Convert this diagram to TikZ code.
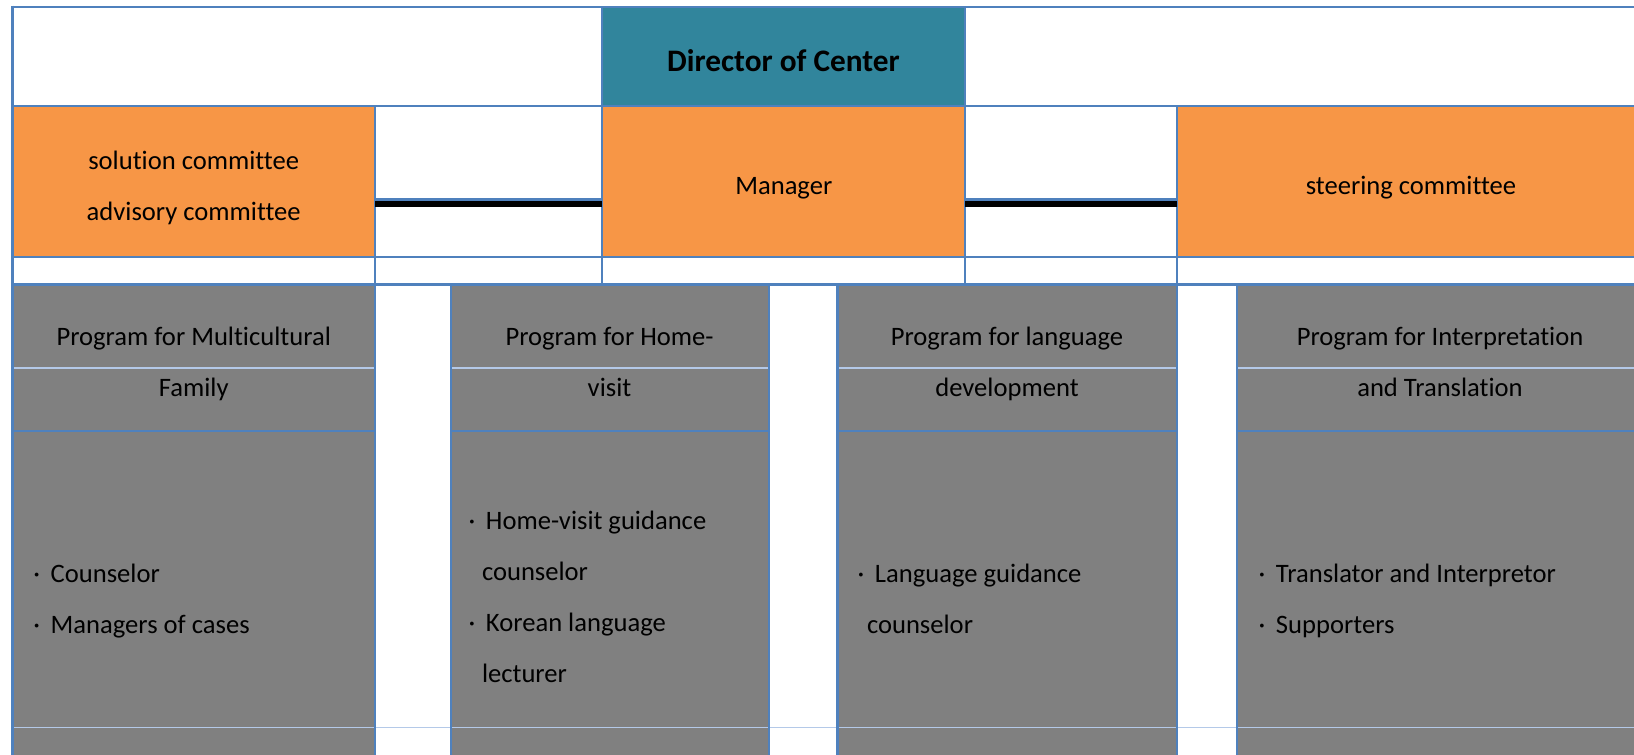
\documentclass[tikz,border=0pt]{standalone}
\usepackage{fontspec}
\setmainfont{Carlito}[Ligatures=NoCommon]
\usetikzlibrary{fit,calc}
\definecolor{gridblue}{HTML}{4F81BD}
\definecolor{lightgrid}{HTML}{B4C9E8}
\definecolor{dirteal}{HTML}{31859C}
\definecolor{boxorange}{HTML}{F79646}
\definecolor{boxgray}{HTML}{808080}
\newcommand\mybul{\makebox[17.4pt][l]{·}}
\begin{document}
\begin{tikzpicture}[x=1pt,y=-1pt,
  cellbox/.style={rectangle, inner sep=0pt, outer sep=0pt, draw=none},
  txt/.style={inner sep=0pt, outer sep=0pt, anchor=base, font=\fontsize{26.6}{30}\selectfont},
  btxt/.style={txt, anchor=base west},
  dtxt/.style={inner sep=0pt, outer sep=0pt, anchor=base, font=\fontsize{31.3}{36}\selectfont\bfseries},
  gline/.style={draw=gridblue, line width=2.3pt},
  lline/.style={draw=lightgrid, line width=1.3pt},
  conn/.style={draw=black, line width=6pt}]
\useasboundingbox (0,0) rectangle (1634,755);
\fill[white] (0,0) rectangle (1634,755);
% coloured cells
\node[cellbox, fill=dirteal, fit={(602,6.7)(965,106)}] (dir) {};
\node[cellbox, fill=boxorange, fit={(12.5,106)(375,257)}] (sol) {};
\node[cellbox, fill=boxorange, fit={(602,106)(965,257)}] (mgr) {};
\node[cellbox, fill=boxorange, fit={(1177,106)(1634,257)}] (steer) {};
\node[cellbox, fill=boxgray, fit={(12.5,284.5)(375,755)}] (p1) {};
\node[cellbox, fill=boxgray, fit={(451,284.5)(768.7,755)}] (p2) {};
\node[cellbox, fill=boxgray, fit={(837.5,284.5)(1177,755)}] (p3) {};
\node[cellbox, fill=boxgray, fit={(1237,284.5)(1634,755)}] (p4) {};
% light lines
\foreach \a/\b in {12.5/375, 451/768.7, 837.5/1177, 1237/1634}
  \draw[lline] (\a,368) -- (\b,368);
\draw[lline] (11,727.7) -- (1634,727.7);
% blue grid
\draw[gline] (11.3,6.7) -- (1634,6.7);
\draw[gline] (11.3,106) -- (1634,106);
\draw[gline] (11.3,257) -- (1634,257);
\draw[gline] (11.3,284.5) -- (1634,284.5);
\draw[gline] (375,199.5) -- (602,199.5);
\draw[gline] (965,199.5) -- (1177,199.5);
\foreach \a/\b in {12.5/375, 451/768.7, 837.5/1177, 1237/1634}
  \draw[gline] (\a,431.3) -- (\b,431.3);
\draw[gline] (12.5,5.55) -- (12.5,755);
\draw[gline] (602,6.7) -- (602,284.5);
\draw[gline] (965,6.7) -- (965,284.5);
\foreach \x in {375,1177}
  \draw[gline] (\x,106) -- (\x,755);
\foreach \x in {451,768.7,837.5,1237}
  \draw[gline] (\x,284.5) -- (\x,755);
% connectors
\draw[conn] ($(sol.east)+(0,22.2)$) -- ($(mgr.west)+(0,22.2)$);
\draw[conn] ($(mgr.east)+(0,22.2)$) -- ($(steer.west)+(0,22.2)$);
% texts
\node[dtxt] (tdir) at (783.5,71.7) {Director of Center};
\node[txt] (tsol1) at (193.7,169.3) {solution committee};
\node[txt] (tsol2) at (193.7,220.3) {advisory committee};
\node[txt] (tmgr) at (783.8,194) {Manager};
\node[txt] (tsteer) at (1411,194) {steering committee};
\node[txt] (h1a) at (193.7,345) {Program for Multicultural};
\node[txt] (h1b) at (193.7,396) {Family};
\node[txt] (h2a) at (609.5,345) {Program for Home-};
\node[txt] (h2b) at (609.5,396) {visit};
\node[txt] (h3a) at (1007,345) {Program for language};
\node[txt] (h3b) at (1007,396) {development};
\node[txt] (h4a) at (1440,345) {Program for Interpretation};
\node[txt] (h4b) at (1440,396) {and Translation};
% bullet lists
\node[btxt] (b1a) at (33.3,582.5) {\mybul Counselor};
\node[btxt] (b1b) at (33.3,633.5) {\mybul Managers of cases};
\node[btxt] (b2a) at (468.6,529.3) {\mybul Home-visit guidance};
\node[btxt] (b2b) at (482,580.4) {counselor};
\node[btxt] (b2c) at (468.6,631.5) {\mybul Korean language};
\node[btxt] (b2d) at (482,682.6) {lecturer};
\node[btxt] (b3a) at (857.6,582.5) {\mybul Language guidance};
\node[btxt] (b3b) at (867,633.5) {counselor};
\node[btxt] (b4a) at (1258.6,582.5) {\mybul Translator and Interpretor};
\node[btxt] (b4b) at (1258.6,633.5) {\mybul Supporters};
\end{tikzpicture}
\end{document}
